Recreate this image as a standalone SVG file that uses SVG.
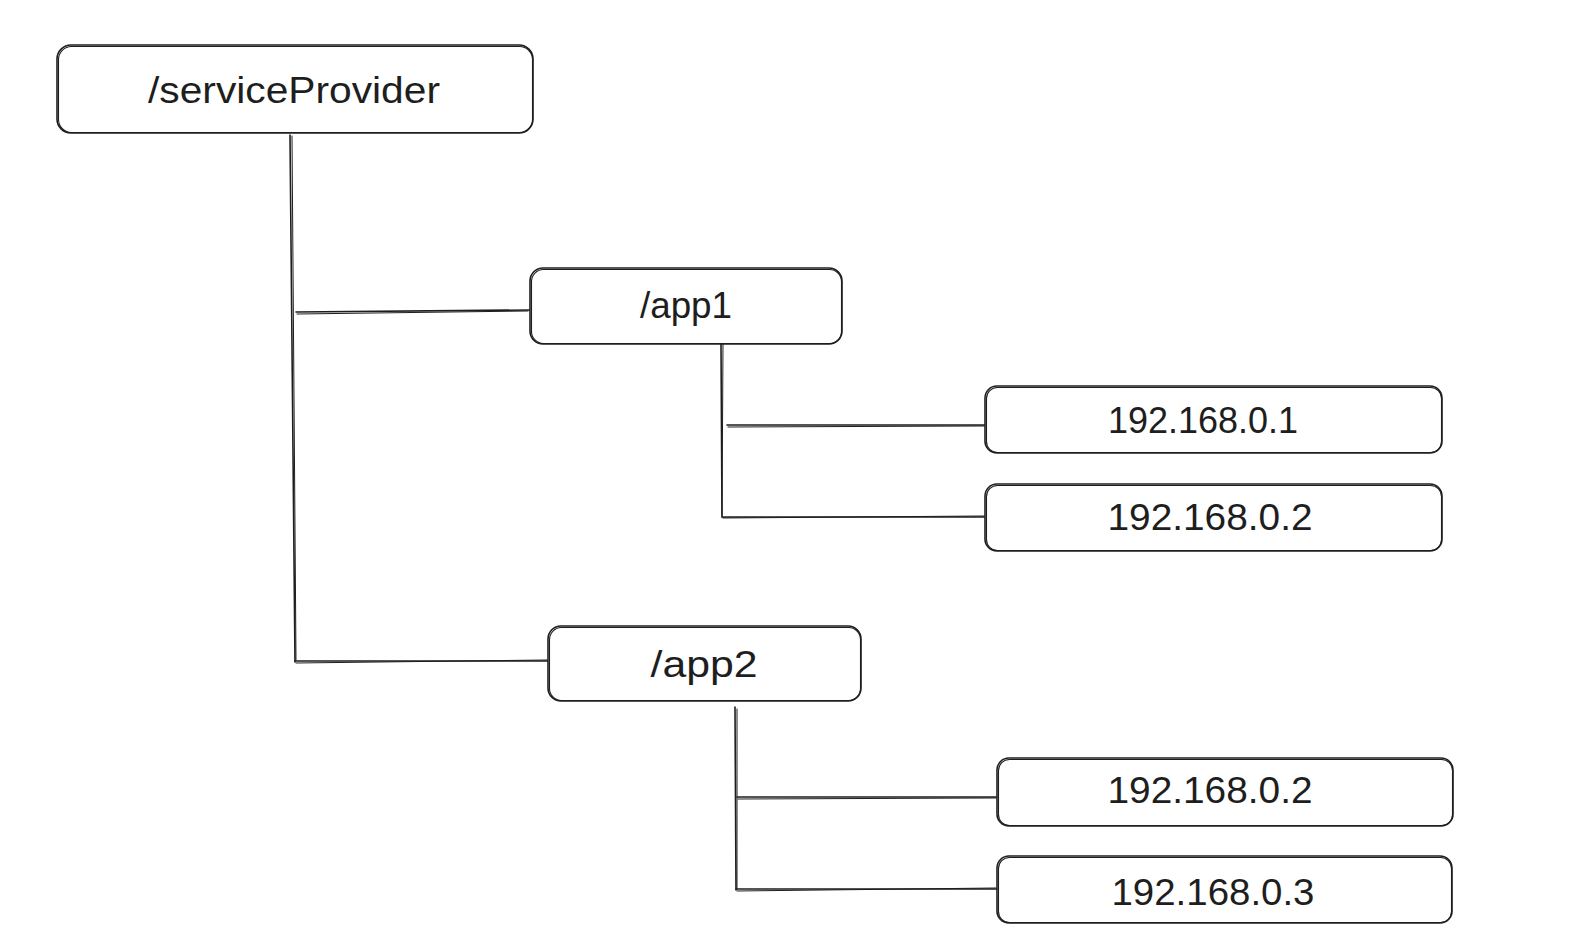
<svg xmlns="http://www.w3.org/2000/svg" width="1570" height="942" viewBox="0 0 1570 942">
  <style>
    .box { fill: #ffffff; stroke: #1e1e1e; stroke-width: 1.6; }
    .box2 { fill: none; stroke: #1e1e1e; stroke-width: 1.1; }
    .wire { fill: none; stroke: #1e1e1e; stroke-width: 1.6; stroke-linecap: round; }
    .wire2 { fill: none; stroke: #1e1e1e; stroke-width: 1; stroke-linecap: round; }
    .label { font-family: "Liberation Sans", "DejaVu Sans", sans-serif; font-size: 36px; fill: #1e1e1e; text-anchor: middle; dominant-baseline: central; }
  </style>
  <rect width="1570" height="942" fill="#ffffff"/>

  <!-- tree connectors -->
  <g id="connectors">
    <path class="wire" d="M290 135 L295 662"/>
    <path class="wire2" d="M292 136 L296 660"/>
    <path class="wire" d="M296 312 L530 310"/>
    <path class="wire2" d="M297 314 L528 311"/>
    <path class="wire" d="M295 661 L548 661"/>
    <path class="wire2" d="M296 663 L547 660"/>

    <path class="wire" d="M721 342 L722 517"/>
    <path class="wire2" d="M723 344 L722 515"/>
    <path class="wire" d="M727 425 L988 425"/>
    <path class="wire2" d="M728 427 L986 426"/>
    <path class="wire" d="M722 517 L985 517"/>
    <path class="wire2" d="M723 518 L984 516"/>

    <path class="wire" d="M735 707 L736 890"/>
    <path class="wire2" d="M737 709 L737 889"/>
    <path class="wire" d="M737 797 L997 797"/>
    <path class="wire2" d="M738 799 L996 798"/>
    <path class="wire" d="M736 889 L997 889"/>
    <path class="wire2" d="M737 891 L996 888"/>
  </g>

  <g id="node-serviceProvider">
    <rect class="box" x="57" y="45" width="476" height="88" rx="14"/>
    <rect class="box2" x="58.5" y="46.5" width="474" height="86" rx="13"/>
    <text class="label" x="294" y="90" textLength="292" lengthAdjust="spacingAndGlyphs">/serviceProvider</text>
  </g>

  <g id="node-app1">
    <rect class="box" x="530" y="268" width="312" height="76" rx="13"/>
    <rect class="box2" x="531.5" y="269.5" width="310" height="74" rx="12"/>
    <text class="label" x="686" y="305" textLength="92" lengthAdjust="spacingAndGlyphs">/app1</text>
  </g>

  <g id="node-app2">
    <rect class="box" x="548" y="626" width="313" height="75" rx="13"/>
    <rect class="box2" x="549.5" y="627.5" width="311" height="73" rx="12"/>
    <text class="label" x="704" y="664" textLength="107" lengthAdjust="spacingAndGlyphs">/app2</text>
  </g>

  <g id="node-ip1">
    <rect class="box" x="985" y="386" width="457" height="67" rx="12"/>
    <rect class="box2" x="986.5" y="387.5" width="455" height="65" rx="11"/>
    <text class="label" x="1203" y="420" textLength="190" lengthAdjust="spacingAndGlyphs">192.168.0.1</text>
  </g>

  <g id="node-ip2">
    <rect class="box" x="985" y="484" width="457" height="67" rx="12"/>
    <rect class="box2" x="986.5" y="485.5" width="455" height="65" rx="11"/>
    <text class="label" x="1210" y="517" textLength="205" lengthAdjust="spacingAndGlyphs">192.168.0.2</text>
  </g>

  <g id="node-ip3">
    <rect class="box" x="997" y="758" width="456" height="68" rx="12"/>
    <rect class="box2" x="998.5" y="759.5" width="454" height="66" rx="11"/>
    <text class="label" x="1210" y="790" textLength="205" lengthAdjust="spacingAndGlyphs">192.168.0.2</text>
  </g>

  <g id="node-ip4">
    <rect class="box" x="997" y="856" width="455" height="67" rx="12"/>
    <rect class="box2" x="998.5" y="857.5" width="453" height="65" rx="11"/>
    <text class="label" x="1213" y="892" textLength="203" lengthAdjust="spacingAndGlyphs">192.168.0.3</text>
  </g>
</svg>
